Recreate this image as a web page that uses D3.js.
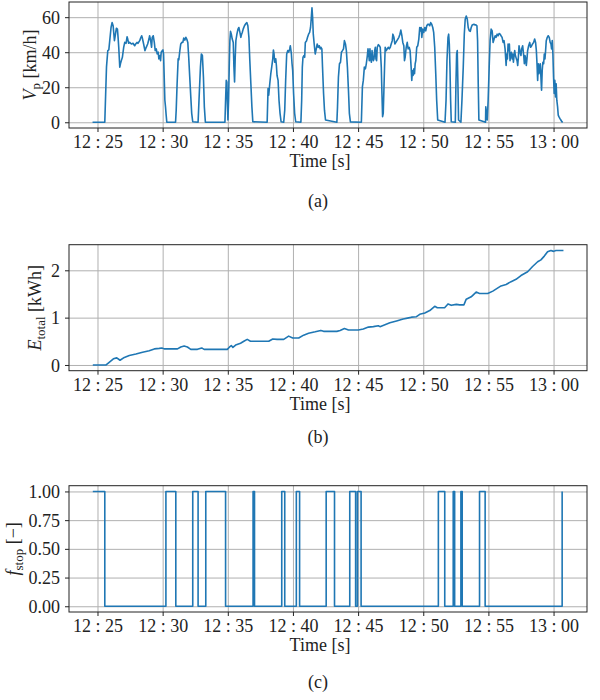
<!DOCTYPE html>
<meta charset="utf-8">
<style>
  body { margin: 0; background: #fff; }
  text { font-family: 'Liberation Serif', 'Times New Roman', serif; font-size: 18px; fill: #222; }
</style>
<div id="chart"></div>
<script src="https://d3js.org/d3.v7.min.js"></script>
<script>
  // all times are minutes after 12:00

  // (a) vehicle speed, [time, km/h]
  const speedSamples = [
    [24.62, 0], [25.56, 0], [25.69, 31.5], [25.79, 40.9], [25.87, 41.3], [25.94, 46.6], [26.04, 54.1], [26.12, 56.9],
    [26.2, 55.1], [26.3, 46.6], [26.38, 50.3], [26.45, 53.7], [26.53, 53.2], [26.58, 48.5], [26.63, 42.8], [26.71, 31.5],
    [26.76, 33.4], [26.83, 35.2], [26.91, 37.1], [27.01, 42.8], [27.09, 45.6], [27.19, 45.1], [27.27, 48.8], [27.32, 47.5],
    [27.39, 45.1], [27.47, 45.6], [27.6, 44.7], [27.73, 45.1], [27.85, 43.7], [27.93, 44.7], [28.03, 45.6], [28.11, 45.1],
    [28.24, 46.6], [28.31, 48.1], [28.39, 49.4], [28.44, 48.1], [28.54, 44.7], [28.64, 40.9], [28.74, 42.8], [28.85, 44.7],
    [28.95, 47.5], [29.0, 49.4], [29.08, 46.6], [29.15, 42.8], [29.2, 48.5], [29.28, 49.4], [29.36, 45.6], [29.43, 40.9],
    [29.51, 41.9], [29.58, 39.0], [29.66, 40.0], [29.71, 36.2], [29.79, 38.1], [29.84, 35.2], [29.89, 40.0], [29.97, 40.9],
    [30.02, 41.3], [30.07, 39.0], [30.12, 25.8], [30.17, 12.6], [30.22, 8.8], [30.27, 4.1], [30.32, 0],
    [30.99, 0], [31.04, 6.9], [31.11, 22.0], [31.19, 36.2], [31.24, 35.6], [31.32, 40.9], [31.39, 44.7], [31.47, 45.6],
    [31.55, 45.6], [31.62, 48.1], [31.7, 46.9], [31.78, 48.5], [31.85, 47.5], [31.93, 45.6], [32.0, 37.1], [32.08, 25.8],
    [32.16, 14.5], [32.23, 5.1], [32.31, 0.3],
    [32.72, 0], [32.79, 12.6], [32.9, 31.5], [32.97, 39.0], [33.05, 38.1], [33.13, 25.8], [33.2, 8.8], [33.28, 0],
    [34.78, 0], [34.83, 12.6], [34.88, 23.9], [34.93, 23.0], [34.96, 12.6], [35.01, 1.3], [35.06, 12.6], [35.11, 31.5],
    [35.16, 46.6], [35.21, 51.9], [35.27, 50.3], [35.34, 47.5], [35.42, 45.6], [35.47, 31.5], [35.52, 23.0], [35.57, 37.1],
    [35.62, 46.6], [35.7, 50.3], [35.78, 53.2], [35.85, 54.1], [35.93, 51.3], [36.0, 48.5], [36.06, 50.3], [36.11, 51.3],
    [36.18, 53.2], [36.28, 55.1], [36.39, 56.4], [36.46, 56.9], [36.54, 55.1], [36.62, 48.5], [36.69, 35.2], [36.77, 22.0],
    [36.85, 8.8], [36.92, 0.3],
    [38.02, 0], [38.09, 19.2], [38.14, 15.4], [38.22, 22.0], [38.3, 27.7], [38.37, 31.5], [38.45, 36.2], [38.5, 41.3],
    [38.55, 39.0], [38.6, 34.3], [38.68, 36.2], [38.73, 32.4], [38.78, 26.7], [38.86, 23.9], [38.93, 12.6], [39.01, 5.1],
    [39.09, 0.3],
    [39.29, 0], [39.37, 6.9], [39.44, 23.9], [39.52, 39.0], [39.6, 40.9], [39.67, 40.0], [39.75, 41.9], [39.8, 43.7],
    [39.88, 39.0], [39.93, 33.4], [39.98, 29.6], [40.05, 16.4], [40.13, 5.1], [40.21, 0.3],
    [40.61, 0], [40.67, 12.6], [40.72, 31.5], [40.77, 37.1], [40.84, 38.1], [40.9, 37.1], [40.95, 45.6], [41.05, 46.6],
    [41.12, 48.5], [41.2, 50.3], [41.28, 51.3], [41.35, 54.1], [41.4, 58.8], [41.46, 65.4], [41.51, 59.8], [41.56, 50.3],
    [41.63, 44.7], [41.71, 39.0], [41.79, 41.9], [41.86, 44.7], [41.94, 42.8], [42.02, 43.7], [42.09, 41.9], [42.14, 42.8],
    [42.22, 41.9], [42.27, 31.5], [42.35, 16.4], [42.42, 6.9], [42.5, 1.3],
    [43.37, 0], [43.42, 8.8], [43.49, 25.8], [43.57, 33.4], [43.65, 34.3], [43.72, 40.0], [43.8, 40.9], [43.88, 41.9],
    [43.95, 46.6], [44.03, 44.7], [44.1, 40.9], [44.18, 31.5], [44.26, 18.3], [44.33, 5.1], [44.41, 0.2],
    [45.25, 0], [45.33, 20.2], [45.4, 23.9], [45.48, 31.5], [45.56, 30.5], [45.63, 33.4], [45.71, 38.1], [45.76, 41.9],
    [45.81, 39.0], [45.86, 35.2], [45.91, 41.9], [45.96, 36.2], [46.02, 34.3], [46.07, 40.9], [46.12, 37.1], [46.17, 35.2],
    [46.22, 36.2], [46.27, 40.9], [46.32, 42.8], [46.37, 36.2], [46.42, 35.2], [46.47, 42.8], [46.55, 44.3], [46.63, 43.7],
    [46.7, 42.8], [46.78, 31.5], [46.83, 16.4], [46.88, 3.2], [46.93, 5.1], [46.98, 18.3], [47.03, 31.5], [47.08, 42.8],
    [47.16, 40.9], [47.24, 41.9], [47.31, 42.8], [47.39, 41.9], [47.47, 42.8], [47.54, 44.7], [47.62, 46.6], [47.67, 50.3],
    [47.75, 48.5], [47.82, 44.7], [47.9, 45.6], [47.98, 46.6], [48.05, 47.5], [48.13, 48.5], [48.21, 50.3], [48.28, 52.6],
    [48.36, 49.4], [48.43, 45.6], [48.51, 43.7], [48.56, 35.2], [48.61, 37.1], [48.69, 42.8], [48.77, 45.6], [48.84, 41.9],
    [48.92, 42.8], [48.99, 40.9], [49.07, 31.5], [49.12, 23.9], [49.17, 29.6], [49.22, 26.7], [49.28, 30.5], [49.33, 27.7],
    [49.38, 33.4], [49.43, 35.2], [49.5, 42.8], [49.58, 43.7], [49.66, 47.5], [49.73, 54.1], [49.78, 52.2], [49.84, 54.1],
    [49.89, 48.5], [49.96, 53.2], [50.04, 51.3], [50.12, 54.1], [50.19, 52.2], [50.27, 55.1], [50.35, 56.0], [50.42, 56.0],
    [50.5, 55.1], [50.57, 56.9], [50.65, 56.0], [50.73, 54.1], [50.8, 51.3], [50.88, 42.8], [50.96, 27.7], [51.03, 12.6],
    [51.11, 1.3],
    [51.67, 0], [51.75, 12.6], [51.82, 35.2], [51.9, 48.5], [51.95, 50.3], [52.0, 44.7], [52.05, 31.5], [52.1, 12.6],
    [52.15, 0.3],
    [52.46, 0], [52.51, 22.0], [52.56, 39.0], [52.61, 40.9], [52.66, 22.0], [52.71, 1.3],
    [52.89, 0], [52.97, 12.6], [53.07, 31.5], [53.15, 50.3], [53.22, 58.8], [53.3, 60.7], [53.38, 58.8], [53.45, 54.1],
    [53.53, 52.2], [53.61, 51.9], [53.68, 54.1], [53.76, 55.6], [53.89, 56.0], [53.96, 55.6], [54.04, 55.6], [54.12, 55.1],
    [54.17, 46.6], [54.22, 22.0], [54.27, 1.3],
    [54.78, 0], [54.8, 8.8], [54.85, 5.1], [54.91, 1.3], [54.98, 12.6], [55.06, 31.5], [55.13, 46.6], [55.21, 53.2],
    [55.29, 52.2], [55.36, 45.6], [55.44, 47.5], [55.52, 49.4], [55.59, 48.5], [55.67, 50.3], [55.75, 49.4], [55.82, 50.7],
    [55.9, 50.3], [55.97, 49.4], [56.05, 48.5], [56.13, 45.6], [56.2, 46.6], [56.28, 41.9], [56.36, 32.4], [56.41, 39.0],
    [56.46, 36.2], [56.51, 44.7], [56.56, 40.9], [56.61, 44.7], [56.66, 35.2], [56.71, 39.0], [56.76, 40.0], [56.82, 36.2],
    [56.87, 39.0], [56.92, 34.3], [56.97, 38.1], [57.02, 40.9], [57.07, 38.1], [57.15, 36.2], [57.2, 35.2], [57.25, 32.4],
    [57.3, 37.1], [57.35, 43.7], [57.43, 40.0], [57.5, 38.1], [57.55, 41.9], [57.63, 43.7], [57.71, 38.1], [57.76, 33.4],
    [57.81, 38.1], [57.86, 36.2], [57.91, 32.4], [57.96, 36.2], [58.01, 40.9], [58.09, 43.7], [58.17, 45.6], [58.24, 42.8],
    [58.32, 43.7], [58.39, 44.7], [58.47, 45.6], [58.55, 47.5], [58.62, 45.6], [58.68, 40.9], [58.73, 33.4], [58.78, 23.9],
    [58.83, 33.4], [58.88, 27.7], [58.93, 31.5], [58.98, 33.4], [59.03, 25.8], [59.08, 18.3], [59.13, 29.6], [59.18, 34.3],
    [59.24, 33.4], [59.29, 39.0], [59.34, 36.2], [59.39, 40.9], [59.44, 46.6], [59.52, 48.5], [59.59, 49.4], [59.67, 48.5],
    [59.74, 45.6], [59.8, 44.7], [59.85, 41.9], [59.9, 46.6], [59.95, 39.0], [60.0, 25.8], [60.05, 16.4], [60.1, 23.9],
    [60.15, 14.5], [60.2, 22.0], [60.25, 12.6], [60.31, 8.8], [60.36, 4.1], [60.41, 3.2], [60.48, 2.2], [60.56, 1.3],
    [60.64, 0.3], [60.71, 0]
  ];

  // (b) cumulative energy, [time, kWh]
  const energySamples = [
    [24.64, 0], [25.66, 0], [25.92, 0.06], [26.22, 0.13], [26.48, 0.15], [26.73, 0.1], [27.06, 0.16], [27.44, 0.2],
    [27.95, 0.23], [28.46, 0.27], [28.97, 0.3], [29.36, 0.34], [29.74, 0.35], [29.94, 0.36], [30.12, 0.34], [31.14, 0.34],
    [31.39, 0.38], [31.65, 0.4], [31.9, 0.38], [32.16, 0.33], [32.67, 0.33], [33.0, 0.36], [33.18, 0.33], [34.96, 0.33],
    [35.14, 0.38], [35.27, 0.41], [35.39, 0.37], [35.6, 0.42], [35.98, 0.46], [36.23, 0.5], [36.49, 0.54], [36.74, 0.5],
    [38.14, 0.5], [38.45, 0.55], [38.78, 0.54], [39.29, 0.54], [39.67, 0.61], [39.98, 0.57], [40.44, 0.57], [40.82, 0.63],
    [41.2, 0.67], [41.71, 0.7], [42.14, 0.73], [42.35, 0.71], [43.37, 0.71], [43.62, 0.73], [43.95, 0.77], [44.26, 0.74],
    [45.02, 0.74], [45.4, 0.76], [45.79, 0.8], [46.17, 0.81], [46.55, 0.83], [46.68, 0.81], [47.06, 0.85], [47.44, 0.89],
    [47.95, 0.93], [48.46, 0.97], [48.79, 0.99], [49.1, 1.01], [49.48, 1.02], [49.73, 1.07], [50.12, 1.1], [50.5, 1.15],
    [50.88, 1.24], [51.08, 1.21], [51.64, 1.21], [51.9, 1.29], [52.15, 1.26], [52.54, 1.28], [52.79, 1.27], [53.12, 1.27],
    [53.3, 1.39], [53.68, 1.44], [54.06, 1.54], [54.32, 1.51], [54.95, 1.51], [55.34, 1.56], [55.97, 1.67], [56.36, 1.7],
    [56.74, 1.76], [57.12, 1.81], [57.5, 1.89], [58.01, 1.97], [58.39, 2.08], [58.78, 2.18], [59.03, 2.22], [59.29, 2.3],
    [59.54, 2.39], [59.8, 2.42], [60.0, 2.4], [60.18, 2.42], [60.76, 2.42]
  ];

  // (c) stop flag, switching times and new state
  const stopTimes = [24.64, 25.56, 30.25, 31.01, 32.31, 32.72, 33.31, 34.83, 36.94, 37.05, 39.14, 39.37,
    40.26, 40.51, 42.55, 43.19, 44.36, 44.81, 44.95, 45.23, 51.16, 51.65, 52.3, 52.41, 52.89, 52.99,
    54.32, 54.75, 60.66];
  const stopFlags = [1, 0, 1, 0, 1, 0, 1, 0, 1, 0, 1, 0, 1, 0, 1, 0, 1, 0, 1, 0, 1, 0, 1, 0, 1, 0, 1, 0, 1];

  const xTickValues = [25, 30, 35, 40, 45, 50, 55, 60];
  const xTickLabels = ['12 : 25', '12 : 30', '12 : 35', '12 : 40', '12 : 45', '12 : 50', '12 : 55', '13 : 00'];
  const speedTicks = [0, 20, 40, 60];
  const energyTicks = [0, 1, 2];
  const stopTicks = [0, 0.25, 0.5, 0.75, 1];

  const width = 600,
    height = 700,
    left = 69,
    right = 587,
    blue = '#1f77b4';

  const svg = d3
    .select('#chart')
    .append('svg')
    .attr('width', width)
    .attr('height', height);

  const stopSamples = stopTimes.map((t, i) => [t, stopFlags[i]]);

  // matplotlib-like 5% margins
  const padded = (vals) => {
    const lo = d3.min(vals),
      hi = d3.max(vals),
      p = (hi - lo) * 0.05;
    return [lo - p, hi + p];
  };

  const allTimes = speedSamples.concat(energySamples, stopSamples).map((d) => d[0]);
  const xScale = d3.scaleLinear().domain(padded(allTimes)).range([left, right]);

  const panels = [
    {
      data: speedSamples, top: 2, bottom: 128, ticks: speedTicks, fmt: d3.format('d'),
      curve: d3.curveLinear, labelX: 36, caption: '(a)', captionY: 207,
      label: [{ t: 'V', it: true }, { t: 'p', sub: true }, { t: ' [km/h]' }],
    },
    {
      data: energySamples, top: 244.7, bottom: 370.7, ticks: energyTicks, fmt: d3.format('d'),
      curve: d3.curveLinear, labelX: 41, caption: '(b)', captionY: 443,
      label: [{ t: 'E', it: true }, { t: 'total', sub: true }, { t: ' [kWh]' }],
    },
    {
      data: stopSamples, top: 485.7, bottom: 612, ticks: stopTicks, fmt: d3.format('.2f'),
      curve: d3.curveStepAfter, labelX: 19, caption: '(c)', captionY: 688,
      label: [{ t: 'f', it: true }, { t: 'stop', sub: true }, { t: ' [\u2212]' }],
    },
  ];

  panels.forEach((p) => {
    const yScale = d3
      .scaleLinear()
      .domain(padded(p.data.map((d) => d[1])))
      .range([p.bottom, p.top]);
    const g = svg.append('g');

    // grid
    g.append('g')
      .attr('transform', 'translate(0,' + p.bottom + ')')
      .call(d3.axisBottom(xScale).tickValues(xTickValues).tickSize(-(p.bottom - p.top)).tickFormat(''))
      .call((s) => s.select('.domain').remove())
      .selectAll('line')
      .attr('stroke', '#b0b0b0')
      .attr('stroke-width', 1);
    g.append('g')
      .attr('transform', 'translate(' + left + ',0)')
      .call(d3.axisLeft(yScale).tickValues(p.ticks).tickSize(-(right - left)).tickFormat(''))
      .call((s) => s.select('.domain').remove())
      .selectAll('line')
      .attr('stroke', '#b0b0b0')
      .attr('stroke-width', 1);

    // series
    const line = d3
      .line()
      .x((d) => xScale(d[0]))
      .y((d) => yScale(d[1]))
      .curve(p.curve);
    g.append('path')
      .datum(p.data)
      .attr('d', line)
      .attr('fill', 'none')
      .attr('stroke', blue)
      .attr('stroke-width', 1.6)
      .attr('stroke-linejoin', 'round');

    // frame
    g.append('rect')
      .attr('x', left)
      .attr('y', p.top)
      .attr('width', right - left)
      .attr('height', p.bottom - p.top)
      .attr('fill', 'none')
      .attr('stroke', '#222')
      .attr('stroke-width', 1);

    // axes
    const xa = g
      .append('g')
      .attr('transform', 'translate(0,' + p.bottom + ')')
      .call(d3.axisBottom(xScale).tickValues(xTickValues).tickSize(4).tickFormat((d, i) => xTickLabels[i]));
    xa.select('.domain').remove();
    xa.attr('font-size', null).attr('font-family', null);
    xa.selectAll('line').attr('stroke', '#222');
    xa.selectAll('text').attr('y', 20).attr('dy', null);

    const ya = g
      .append('g')
      .attr('transform', 'translate(' + left + ',0)')
      .call(d3.axisLeft(yScale).tickValues(p.ticks).tickSize(4).tickFormat(p.fmt));
    ya.select('.domain').remove();
    ya.attr('font-size', null).attr('font-family', null);
    ya.selectAll('line').attr('stroke', '#222');
    ya.selectAll('text').attr('x', -9).attr('dy', '0.34em');

    // x label
    g.append('text')
      .attr('x', 320)
      .attr('y', p.bottom + 39)
      .attr('text-anchor', 'middle')
      .text('Time [s]');

    // y label
    const yl = g
      .append('text')
      .attr('text-anchor', 'middle')
      .attr('transform', 'translate(' + p.labelX + ',' + (p.top + p.bottom) / 2 + ') rotate(-90)');
    p.label.forEach((part, i) => {
      const ts = yl.append('tspan').text(part.t);
      if (part.it) ts.attr('font-style', 'italic');
      if (part.sub) ts.attr('font-size', '13px').attr('dy', 4);
      else if (i > 0 && p.label[i - 1].sub) ts.attr('dy', -4);
    });

    // caption
    svg.append('text')
      .attr('x', 318)
      .attr('y', p.captionY)
      .attr('text-anchor', 'middle')
      .text(p.caption);
  });
</script>
